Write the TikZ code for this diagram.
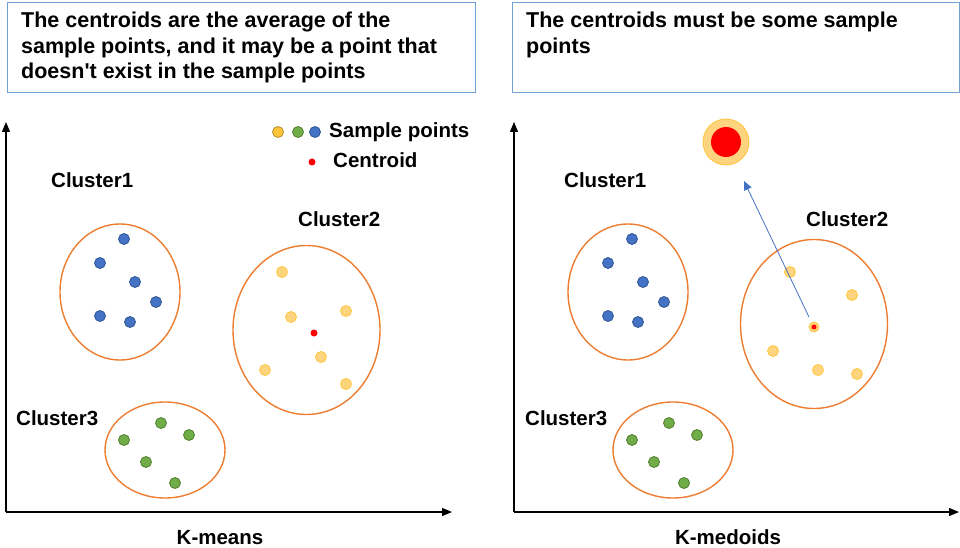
\documentclass[tikz,border=0pt]{standalone}
\usepackage{fontspec}
\setmainfont{Liberation Sans}
\usetikzlibrary{shapes.geometric,arrows.meta}
\definecolor{boxblue}{HTML}{6FA0D6}
\definecolor{clorange}{HTML}{ED7D31}
\definecolor{ptyellow}{HTML}{FFD47F}
\definecolor{ptyellowd}{HTML}{FFC53A}
\definecolor{ptblue}{HTML}{4472C4}
\definecolor{ptblued}{HTML}{2F5597}
\definecolor{ptgreen}{HTML}{70AD47}
\definecolor{ptgreend}{HTML}{507E32}
\definecolor{arrblue}{HTML}{4472C4}
\tikzset{
  x=1pt, y=-1pt,
  tbox/.style={draw=boxblue, line width=1.3pt, anchor=north west, inner sep=0pt},
  boxtext/.style={font=\fontsize{21.5}{25}\selectfont\bfseries, anchor=base west, inner sep=0pt},
  btext/.style={font=\fontsize{20.5}{24}\selectfont\bfseries, anchor=base west, inner sep=0pt},
  ctext/.style={font=\fontsize{20.5}{24}\selectfont\bfseries, anchor=base, inner sep=0pt},
  clus/.style={draw=clorange, line width=1.4pt, ellipse, inner sep=0pt},
  axis/.style={draw=black, line width=1.2pt, -{Triangle[length=10pt,width=8pt]}},
  yp/.style={circle, fill=ptyellow, draw=ptyellowd, line width=0.8pt, minimum size=11pt, inner sep=0pt},
  bp/.style={circle, fill=ptblue, draw=ptblued, line width=0.8pt, minimum size=11pt, inner sep=0pt},
  gp/.style={circle, fill=ptgreen, draw=ptgreend, line width=0.8pt, minimum size=11pt, inner sep=0pt},
  rp/.style={circle, fill=red, draw=none, minimum size=7pt, inner sep=0pt},
}
\begin{document}
\begin{tikzpicture}
\useasboundingbox (0,0) rectangle (960,548);
% text boxes
\node[tbox, minimum width=468pt, minimum height=90pt] (box1) at (7,2) {};
\node[boxtext] (t1a) at (21,28) {The centroids are the average of the};
\node[boxtext] (t1b) at (21,53.5) {sample points, and it may be a point that};
\node[boxtext] (t1c) at (21,79) {doesn\textquotesingle t exist in the sample points};
\node[tbox, minimum width=447pt, minimum height=90pt] (box2) at (512,2) {};
\node[boxtext] (t2a) at (526,28) {The centroids must be some sample};
\node[boxtext] (t2b) at (526,53.5) {points};

% axes
\coordinate (o1) at (6,512);
\coordinate (y1) at (6,122);
\coordinate (x1) at (452,512);
\draw[axis] (o1) -- (y1);
\draw[axis] (o1) -- (x1);
\coordinate (o2) at (514,512);
\coordinate (y2) at (514,122);
\coordinate (x2) at (959,512);
\draw[axis] (o2) -- (y2);
\draw[axis] (o2) -- (x2);
\node[ctext] (km) at (220,544) {K-means};
\node[ctext] (kmd) at (728,544) {K-medoids};

% legend
\node[circle, fill=ptyellowd, draw=ptyellowd!70!black, line width=0.8pt, minimum size=11pt, inner sep=0pt] (l1) at (278,132) {};
\node[gp] (l2) at (298,132) {};
\node[bp] (l3) at (315,132) {};
\node[btext] (lt1) at (329,137.5) {Sample points};
\node[rp] (l4) at (312,162) {};
\node[btext] (lt2) at (333,167.5) {Centroid};

% ---------- K-means ----------
\node[btext] (c1l) at (51,187) {Cluster1};
\node[clus, minimum width=120pt, minimum height=136pt] (e1) at (120,292) {};
\node[bp] (a1) at (124,239) {};
\node[bp] (a2) at (100,263) {};
\node[bp] (a3) at (135,282) {};
\node[bp] (a4) at (156,302) {};
\node[bp] (a5) at (100,316) {};
\node[bp] (a6) at (130,322) {};

\node[btext] (c2l) at (298,226) {Cluster2};
\node[clus, minimum width=147pt, minimum height=169pt] (e2) at (306.5,330) {};
\node[yp] (b1) at (282,272) {};
\node[yp] (b2) at (291,317) {};
\node[yp] (b3) at (346,311) {};
\node[yp] (b4) at (321,357) {};
\node[yp] (b5) at (265,370) {};
\node[yp] (b6) at (346,384) {};
\node[rp] (bc) at (314,333) {};

\node[btext] (c3l) at (16,425) {Cluster3};
\node[clus, minimum width=120pt, minimum height=96pt] (e3) at (165,450) {};
\node[gp] (g1) at (124,440) {};
\node[gp] (g2) at (161,423) {};
\node[gp] (g3) at (189,435) {};
\node[gp] (g4) at (146,462) {};
\node[gp] (g5) at (175,483) {};

% ---------- K-medoids ----------
\node[btext] (d1l) at (564,187) {Cluster1};
\node[clus, minimum width=120pt, minimum height=136pt] (f1) at (628,292) {};
\node[bp] (p1) at (632,239) {};
\node[bp] (p2) at (608,263) {};
\node[bp] (p3) at (643,282) {};
\node[bp] (p4) at (664,302) {};
\node[bp] (p5) at (608,316) {};
\node[bp] (p6) at (638,322) {};

\node[btext] (d2l) at (806,226) {Cluster2};
\node[clus, minimum width=147pt, minimum height=169pt] (f2) at (814,324) {};
\node[yp] (q1) at (790,272) {};
\node[yp] (q2) at (852,295) {};
\node[yp] (q3) at (773,351) {};
\node[yp] (q4) at (818,370) {};
\node[yp] (q5) at (857,374) {};
\node[yp, minimum size=10pt] (qm) at (814,327) {};
\node[rp, minimum size=5pt] (qmc) at (814,327) {};

\node[btext] (d3l) at (525,425) {Cluster3};
\node[clus, minimum width=120pt, minimum height=96pt] (f3) at (673,450) {};
\node[gp] (h1) at (632,440) {};
\node[gp] (h2) at (669,423) {};
\node[gp] (h3) at (697,435) {};
\node[gp] (h4) at (654,462) {};
\node[gp] (h5) at (684,483) {};

% big medoid
\node[circle, fill=ptyellow, draw=ptyellowd, line width=0.8pt, minimum size=46pt, inner sep=0pt] (big) at (726,142) {};
\node[circle, fill=red, draw=none, minimum size=30pt, inner sep=0pt] (bigc) at (726,142) {};
\coordinate (atip) at (744,181);
\draw[draw=arrblue, line width=0.8pt, -{Triangle[length=9pt,width=8pt]}] (809,317) -- (atip);
\end{tikzpicture}
\end{document}
